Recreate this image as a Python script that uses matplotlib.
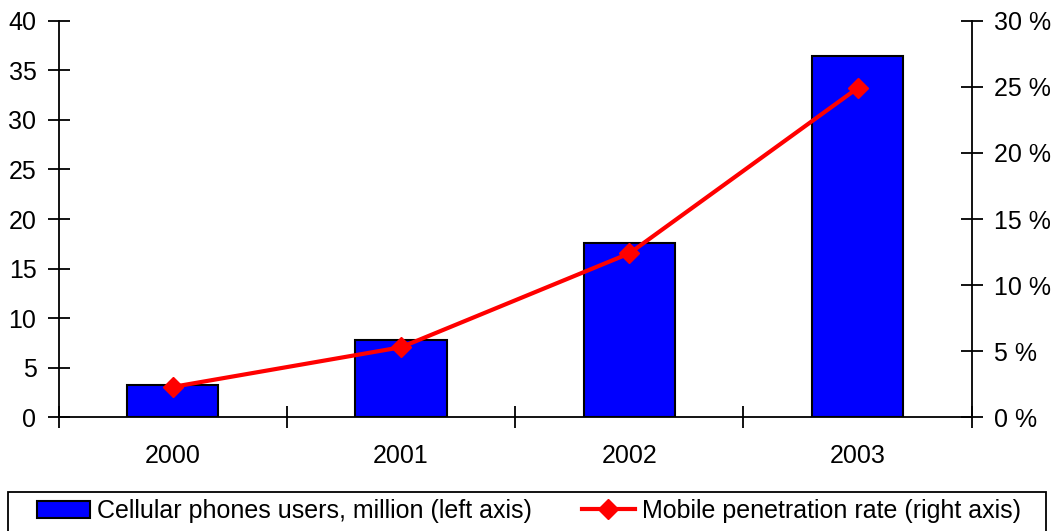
import numpy as np
import matplotlib
matplotlib.use("Agg")
import matplotlib.pyplot as plt
from matplotlib.patches import Rectangle

plt.rcParams['font.family'] = ['Liberation Sans', 'DejaVu Sans']

years = ['2000', '2001', '2002', '2003']
users_mln = [3.3, 7.8, 17.6, 36.4]          # left axis
penetration = [2.3, 5.3, 12.4, 24.9]        # right axis, %
left_ticks = [0, 5, 10, 15, 20, 25, 30, 35, 40]
right_ticks = [0, 5, 10, 15, 20, 25, 30]

fs = 18
W, H = 1052, 531
fig = plt.figure(figsize=(W / 100, H / 100), dpi=100)
ax = fig.add_axes([0.0558, 0.2141, 0.9237 - 0.0558, 0.961 - 0.2141])
ax2 = ax.twinx()

x = np.arange(len(years))
bars = ax.bar(x, users_mln, width=0.4, color='#0000FF', edgecolor='black',
              linewidth=1.5, label='Cellular phones users, million (left axis)', zorder=2)
line, = ax2.plot(x, penetration, color='#FF0000', lw=3, marker='D', ms=10,
                 label='Mobile penetration rate (right axis)', zorder=3)

ax.set_xlim(-0.5, 3.5)
ax.set_ylim(0, 40)
ax2.set_ylim(0, 30)

ax.set_yticks(left_ticks)
ax2.set_yticks(right_ticks)
ax2.set_yticklabels([f'{t} %' for t in right_ticks])

# tick marks between categories, labels under the bars
ax.set_xticks(np.arange(-0.5, 4, 1))
ax.set_xticklabels([])
ax.set_xticks(x, minor=True)
ax.set_xticklabels(years, minor=True)
ax.tick_params(axis='x', which='major', direction='inout', length=16, width=1.3)
ax.tick_params(axis='x', which='minor', length=0, pad=19, labelsize=fs)
ax.tick_params(axis='y', direction='inout', length=16, width=1.3, pad=8, labelsize=fs)
ax2.tick_params(axis='y', direction='inout', length=16, width=1.3, pad=8, labelsize=fs)

for a in (ax, ax2):
    a.spines['top'].set_visible(False)
    for s in ('left', 'right', 'bottom'):
        a.spines[s].set_linewidth(1.3)
ax.spines['right'].set_visible(False)
ax2.spines['left'].set_visible(False)
ax2.spines['bottom'].set_visible(False)

# legend box runs off the bottom edge of the figure
fig.patches.append(Rectangle((8.3 / W, -0.05), (1046 - 8.3) / W, 0.05 + (H - 491.7) / H,
                             transform=fig.transFigure, fill=False,
                             edgecolor='black', linewidth=1.3))
leg = fig.legend([bars, line], [bars.get_label(), line.get_label()],
                 loc='upper left', bbox_to_anchor=(36.7 / W, (H - 499) / H), ncol=2,
                 fontsize=fs, frameon=False,
                 handlelength=2.12, handletextpad=0.28, columnspacing=2.0,
                 borderpad=0, borderaxespad=0)

fig.savefig('out.png', dpi=100)
